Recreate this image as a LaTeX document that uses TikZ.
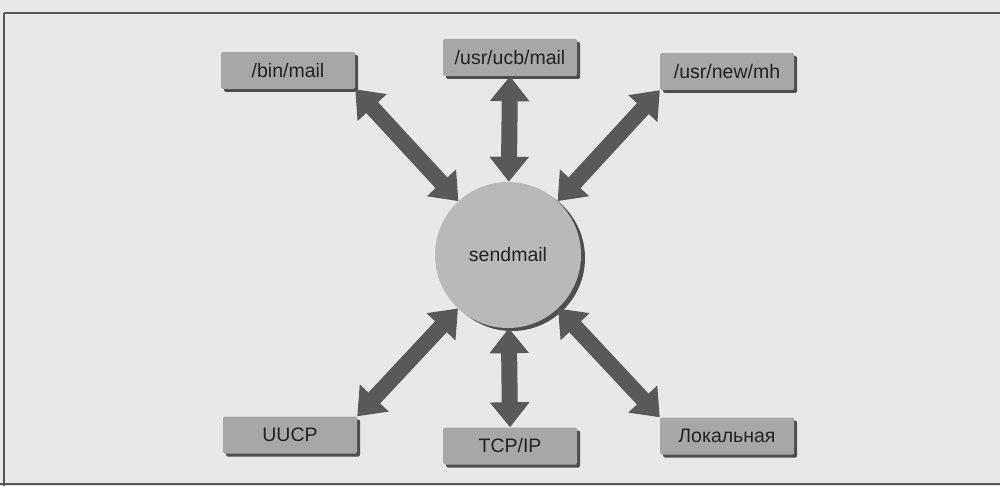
\documentclass[tikz,border=0pt]{standalone}
\usepackage{fontspec}
\setmainfont{Liberation Sans}
\usetikzlibrary{arrows.meta,shadows}
\definecolor{pagebg}{HTML}{E8E8E8}
\definecolor{boxfill}{HTML}{A7A7A7}
\definecolor{boxshade}{HTML}{4E4E4E}
\definecolor{circfill}{HTML}{B9B9B9}
\definecolor{arrowcol}{HTML}{595959}
\definecolor{txtcol}{HTML}{222222}
\definecolor{rulecol}{HTML}{555555}
\tikzset{
  mbox/.style={draw=none, fill=boxfill, rounded corners=1.5pt, minimum width=134pt, minimum height=37pt,
    inner sep=0pt, text=txtcol, font=\fontsize{19.5}{21}\selectfont,
    drop shadow={shadow xshift=3pt, shadow yshift=-3pt, fill=boxshade, opacity=1}},
  core/.style={circle, fill=circfill, minimum size=146pt, inner sep=0pt, text=txtcol,
    font=\fontsize{19.5}{21}\selectfont,
    drop shadow={shadow xshift=4pt, shadow yshift=-3pt, fill=boxshade, opacity=1}},
  big/.style={draw=arrowcol, line width=16pt,
    {Triangle[length=25pt,width=38pt]}-{Triangle[length=25pt,width=38pt]}, color=arrowcol},
  pagerule/.style={draw=rulecol, line width=1.2pt}
}
\begin{document}
\begin{tikzpicture}[x=1pt,y=-1pt]
\fill[pagebg] (0,0) rectangle (1000,486);
\useasboundingbox (0,0) rectangle (1000,486);
\coordinate (tl) at (4,13);
\coordinate (tr) at (1000,13);
\coordinate (bl) at (4,486);
\coordinate (blr) at (0,484);
\coordinate (brr) at (1000,484);
\draw[pagerule, line width=2pt] (bl) -- (tl);
\draw[pagerule] (tl) -- (tr);
\draw[pagerule] (blr) -- (brr);

\node[core] (sm) at (508,255) {sendmail};
\node[mbox] (bin) at (288,70.5) {/bin/mail};
\node[mbox] (ucb) at (510,57.5) {/usr/ucb/mail};
\node[mbox] (mh)  at (727,71.5) {/usr/new/mh};
\node[mbox] (uucp) at (290,435) {UUCP};
\node[mbox] (tcp) at (510,446) {TCP/IP};
\node[mbox] (loc) at (727,436) {Локальная};

\draw[big] (bin.south east) -- (sm);
\draw[big] (ucb.south) -- (sm);
\draw[big] (mh.south west) -- (sm);
\draw[big] (uucp.north east) -- (sm);
\draw[big] (tcp.north) -- (sm);
\draw[big] (loc.north west) -- (sm);
\end{tikzpicture}
\end{document}
